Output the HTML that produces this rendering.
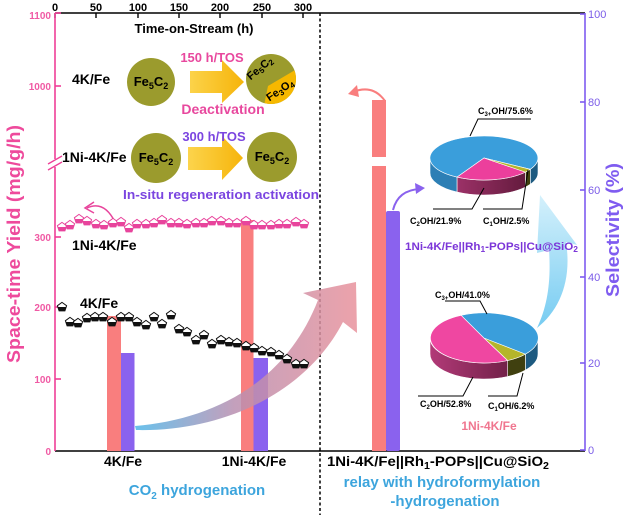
<!DOCTYPE html>
<html><head><meta charset="utf-8"><style>
html,body{margin:0;padding:0;background:#fff;}
svg{display:block;}
text{font-family:"Liberation Sans",Arial,sans-serif;}
</style></head><body>
<svg width="630" height="515" viewBox="0 0 630 515" xmlns="http://www.w3.org/2000/svg">
<defs>
  <linearGradient id="bigArrow" x1="135" y1="0" x2="356" y2="0" gradientUnits="userSpaceOnUse">
    <stop offset="0" stop-color="#4fb6e8"/>
    <stop offset="0.45" stop-color="#b98fb0"/>
    <stop offset="1" stop-color="#e8929c"/>
  </linearGradient>
  <linearGradient id="blueArrow" x1="0" y1="195" x2="0" y2="330" gradientUnits="userSpaceOnUse">
    <stop offset="0" stop-color="#cdeefb"/>
    <stop offset="1" stop-color="#5cc2ef"/>
  </linearGradient>
  <linearGradient id="yArrow" x1="188" y1="0" x2="244" y2="0" gradientUnits="userSpaceOnUse">
    <stop offset="0" stop-color="#fcd44c"/>
    <stop offset="1" stop-color="#f6b40a"/>
  </linearGradient>
  <linearGradient id="pinkSide" x1="430" y1="0" x2="538" y2="0" gradientUnits="userSpaceOnUse">
    <stop offset="0" stop-color="#b23a78"/>
    <stop offset="1" stop-color="#5a1736"/>
  </linearGradient>
  <linearGradient id="blueSide" x1="430" y1="0" x2="538" y2="0" gradientUnits="userSpaceOnUse">
    <stop offset="0" stop-color="#3288c0"/>
    <stop offset="1" stop-color="#1d5a80"/>
  </linearGradient>
  <g id="mb">
    <polygon points="0,-4.6 4.6,-1.3 2.9,3.9 -2.9,3.9 -4.6,-1.3" fill="#fff" stroke="#111" stroke-width="1"/>
    <polygon points="-4.1,0 4.1,0 2.9,3.9 -2.9,3.9" fill="#111"/>
  </g>
  <g id="mp">
    <polygon points="0,-4.6 4.6,-1.3 2.9,3.9 -2.9,3.9 -4.6,-1.3" fill="#fff" stroke="#e8449c" stroke-width="1"/>
    <polygon points="-4.1,0 4.1,0 2.9,3.9 -2.9,3.9" fill="#e8449c"/>
  </g>
</defs>

<!-- axes frame -->
<line x1="55" y1="13" x2="585" y2="13" stroke="#000" stroke-width="1.6"/>
<line x1="55" y1="451" x2="585" y2="451" stroke="#000" stroke-width="1.6"/>
<line x1="320" y1="13" x2="320" y2="515" stroke="#000" stroke-width="1.5" stroke-dasharray="3,2.5"/>
<!-- top ticks -->
<g stroke="#000" stroke-width="1.4">
  <line x1="55" y1="13" x2="55" y2="18"/><line x1="96" y1="13" x2="96" y2="18"/><line x1="138" y1="13" x2="138" y2="18"/>
  <line x1="179" y1="13" x2="179" y2="18"/><line x1="220" y1="13" x2="220" y2="18"/><line x1="262" y1="13" x2="262" y2="18"/>
  <line x1="303" y1="13" x2="303" y2="18"/>
  <line x1="122" y1="451" x2="122" y2="446"/><line x1="254" y1="451" x2="254" y2="446"/>
</g>
<g font-size="11" font-weight="bold" fill="#000" text-anchor="middle">
  <text x="55" y="11">0</text><text x="96" y="11">50</text><text x="138" y="11">100</text>
  <text x="179" y="11">150</text><text x="220" y="11">200</text><text x="262" y="11">250</text><text x="303" y="11">300</text>
</g>
<text x="194" y="33" font-size="13" font-weight="bold" text-anchor="middle">Time-on-Stream (h)</text>

<!-- left axis -->
<g stroke="#ee3f97" stroke-width="1.6">
  <line x1="55" y1="13" x2="55" y2="159"/>
  <line x1="55" y1="167" x2="55" y2="451"/>
  <line x1="55" y1="13" x2="61" y2="13"/><line x1="55" y1="86" x2="61" y2="86"/>
  <line x1="55" y1="237" x2="61" y2="237"/><line x1="55" y1="307" x2="61" y2="307"/>
  <line x1="55" y1="379" x2="61" y2="379"/>
  <line x1="48" y1="164" x2="62" y2="156" stroke-width="1.3"/>
  <line x1="48" y1="170" x2="62" y2="162" stroke-width="1.3"/>
</g>
<g font-size="10" font-weight="bold" fill="#f05aa4" text-anchor="end">
  <text x="51" y="19">1100</text><text x="51" y="90">1000</text><text x="51" y="241">300</text>
  <text x="51" y="311">200</text><text x="51" y="383">100</text><text x="51" y="455">0</text>
</g>
<text transform="translate(20,244) rotate(-90)" font-size="18" font-weight="bold" fill="#ee4a9c" text-anchor="middle" textLength="238" lengthAdjust="spacingAndGlyphs">Space-time Yield (mg/g/h)</text>

<!-- right axis -->
<g stroke="#7f5cf0" stroke-width="1.6">
  <line x1="585" y1="13" x2="585" y2="451"/>
  <line x1="580" y1="14" x2="585" y2="14"/><line x1="580" y1="102" x2="585" y2="102"/>
  <line x1="580" y1="190" x2="585" y2="190"/><line x1="580" y1="277" x2="585" y2="277"/>
  <line x1="580" y1="363" x2="585" y2="363"/><line x1="580" y1="450" x2="585" y2="450"/>
</g>
<g font-size="11" fill="#7b5ce8">
  <text x="588" y="18">100</text><text x="588" y="106">80</text><text x="588" y="194">60</text>
  <text x="588" y="281">40</text><text x="588" y="367">20</text><text x="588" y="454">0</text>
</g>
<text transform="translate(619,230) rotate(-90)" font-size="18" font-weight="bold" fill="#7f5cf0" text-anchor="middle" textLength="134" lengthAdjust="spacingAndGlyphs">Selectivity (%)</text>

<!-- bars -->
<rect x="107" y="316" width="14" height="135" fill="#f97e7e"/>
<rect x="121" y="353" width="13.5" height="98" fill="#8a62ee"/>
<rect x="241" y="220" width="12.5" height="231" fill="#f97e7e"/>
<rect x="253.5" y="358" width="14.5" height="93" fill="#8a62ee"/>
<rect x="372" y="100" width="14" height="57" fill="#f97e7e"/>
<rect x="372" y="166" width="14" height="285" fill="#f97e7e"/>
<rect x="386" y="211" width="14" height="240" rx="2" fill="#8a62ee"/>

<!-- big gradient arrow -->
<path d="M135,426 C210,420 285,385 318,300 L303,293 L356,282 L357,333 L343,322 C305,395 220,432 136,430 Z" fill="url(#bigArrow)" opacity="0.85"/>

<!-- light blue arrow -->
<path d="M540,195 L577,245 L566,242 C572,280 560,310 537,328 C548,305 551,280 549,250 L537,253 Z" fill="url(#blueArrow)" opacity="0.85"/>

<!-- small curved arrows -->
<path d="M115,222 Q104,200 87,208" fill="none" stroke="#e8449c" stroke-width="1.5"/>
<path d="M94,202 L85,208 L94,213" fill="none" stroke="#e8449c" stroke-width="1.5"/>
<path d="M385,101 Q373,84 353,92" fill="none" stroke="#f97e7e" stroke-width="2"/>
<path d="M348,94 L357,85 L359,97 Z" fill="#f97e7e"/>
<path d="M393,210 Q398,190 420,189" fill="none" stroke="#8a62ee" stroke-width="2"/>
<path d="M425,188 L415,183 L416,194 Z" fill="#8a62ee"/>

<!-- pink series -->
<g>
<use href="#mp" x="62" y="227"/><use href="#mp" x="70" y="225"/><use href="#mp" x="79" y="219"/><use href="#mp" x="87" y="221"/>
<use href="#mp" x="96" y="224"/><use href="#mp" x="104" y="225"/><use href="#mp" x="113" y="223"/><use href="#mp" x="121" y="222"/>
<use href="#mp" x="129" y="228"/><use href="#mp" x="137" y="224"/><use href="#mp" x="146" y="224"/><use href="#mp" x="154" y="223"/>
<use href="#mp" x="162" y="220"/><use href="#mp" x="171" y="223"/><use href="#mp" x="179" y="223"/><use href="#mp" x="187" y="224"/>
<use href="#mp" x="196" y="223"/><use href="#mp" x="204" y="223"/><use href="#mp" x="212" y="221"/><use href="#mp" x="221" y="221"/>
<use href="#mp" x="229" y="223"/><use href="#mp" x="237" y="223"/><use href="#mp" x="246" y="221"/><use href="#mp" x="254" y="225"/>
<use href="#mp" x="262" y="225"/><use href="#mp" x="271" y="225"/><use href="#mp" x="279" y="224"/><use href="#mp" x="287" y="224"/>
<use href="#mp" x="296" y="222"/><use href="#mp" x="304" y="224"/>
</g>
<!-- black series -->
<g>
<use href="#mb" x="62" y="307"/><use href="#mb" x="70" y="322"/><use href="#mb" x="78" y="323"/><use href="#mb" x="87" y="318"/>
<use href="#mb" x="95" y="317"/><use href="#mb" x="103" y="317"/><use href="#mb" x="112" y="322"/><use href="#mb" x="121" y="317"/>
<use href="#mb" x="129" y="317"/><use href="#mb" x="137" y="322"/><use href="#mb" x="146" y="325"/><use href="#mb" x="154" y="317"/>
<use href="#mb" x="162" y="324"/><use href="#mb" x="171" y="315"/><use href="#mb" x="179" y="329"/><use href="#mb" x="187" y="332"/>
<use href="#mb" x="196" y="340"/><use href="#mb" x="204" y="335"/><use href="#mb" x="212" y="344"/><use href="#mb" x="221" y="340"/>
<use href="#mb" x="229" y="342"/><use href="#mb" x="237" y="343"/><use href="#mb" x="246" y="346"/><use href="#mb" x="254" y="348"/>
<use href="#mb" x="262" y="351"/><use href="#mb" x="271" y="352"/><use href="#mb" x="279" y="355"/><use href="#mb" x="287" y="359"/>
<use href="#mb" x="296" y="364"/><use href="#mb" x="304" y="364"/>
</g>

<text x="72" y="250" font-size="14" font-weight="bold">1Ni-4K/Fe</text>
<text x="80" y="308" font-size="14" font-weight="bold">4K/Fe</text>

<!-- schematic -->
<text x="72" y="84" font-size="14" font-weight="bold">4K/Fe</text>
<text x="62" y="162" font-size="14" font-weight="bold">1Ni-4K/Fe</text>
<circle cx="151" cy="82" r="24" fill="#9b9b2d"/>
<text x="151" y="86" font-size="13" font-weight="bold" text-anchor="middle">Fe<tspan font-size="9" dy="3">5</tspan><tspan dy="-3">C</tspan><tspan font-size="9" dy="3">2</tspan></text>
<path d="M190,71 L222,71 L222,60 L244,82 L222,103 L222,93 L190,93 Z" fill="url(#yArrow)"/>
<circle cx="271" cy="79" r="25" fill="#9b9b2d"/>
<path d="M294.5,70.4 L268,86 L264.5,103.1 A25,25 0 0,0 294.5,70.4 Z" fill="#f6b800"/>
<text transform="translate(262,71) rotate(-40)" font-size="11" font-weight="bold" text-anchor="middle">Fe<tspan font-size="8" dy="2">5</tspan><tspan dy="-2">C</tspan><tspan font-size="8" dy="2">2</tspan></text>
<text transform="translate(282,93) rotate(-34)" font-size="11" font-weight="bold" text-anchor="middle">Fe<tspan font-size="8" dy="2">3</tspan><tspan dy="-2">O</tspan><tspan font-size="8" dy="2">4</tspan></text>
<text x="212" y="62" font-size="13" font-weight="bold" fill="#e8489e" text-anchor="middle">150 h/TOS</text>
<text x="223" y="114" font-size="14" font-weight="bold" fill="#e8489e" text-anchor="middle">Deactivation</text>

<circle cx="156" cy="158" r="25" fill="#9b9b2d"/>
<text x="156" y="162" font-size="13" font-weight="bold" text-anchor="middle">Fe<tspan font-size="9" dy="3">5</tspan><tspan dy="-3">C</tspan><tspan font-size="9" dy="3">2</tspan></text>
<path d="M188,147 L222,147 L222,136 L243,158 L222,180 L222,170 L188,170 Z" fill="url(#yArrow)"/>
<circle cx="272" cy="157" r="25" fill="#9b9b2d"/>
<text x="272" y="161" font-size="13" font-weight="bold" text-anchor="middle">Fe<tspan font-size="9" dy="3">5</tspan><tspan dy="-3">C</tspan><tspan font-size="9" dy="3">2</tspan></text>
<text x="214" y="141" font-size="13" font-weight="bold" fill="#7b45e0" text-anchor="middle">300 h/TOS</text>
<text x="123" y="199" font-size="13" font-weight="bold" fill="#7b45e0" textLength="196" lengthAdjust="spacingAndGlyphs">In-situ regeneration activation</text>

<!-- top pie -->
<g stroke="#fff" stroke-width="0.6">
<path d="M538,158 A54,22 0 0,1 530.3,169.3 L530.3,184.3 A54,22 0 0,0 538,173 Z" fill="#1d5a80"/>
<path d="M530.3,169.3 A54,22 0 0,1 525.4,172.1 L525.4,187.1 A54,22 0 0,0 530.3,184.3 Z" fill="#40400f"/>
<path d="M525.4,172.1 A54,22 0 0,1 457,177.1 L457,192.1 A54,22 0 0,0 525.4,187.1 Z" fill="url(#pinkSide)"/>
<path d="M457,177.1 A54,22 0 0,1 430,158 L430,173 A54,22 0 0,0 457,192.1 Z" fill="#2d7fb5"/>
<path d="M484,158 L457,177.1 A54,22 0 1,1 530.3,169.3 Z" fill="#3a9edb"/>
<path d="M484,158 L525.4,172.1 A54,22 0 0,1 457,177.1 Z" fill="#ec3f9c"/>
<path d="M484,158 L530.3,169.3 A54,22 0 0,1 525.4,172.1 Z" fill="#b5b52a"/>
</g>
<g stroke="#000" stroke-width="1" fill="none">
<path d="M531,119 L478,119 L470,136"/>
<path d="M433,209 L472,209 L484,188"/>
<path d="M483,209 L522,209 L528,170"/>
</g>
<g font-size="9" font-weight="bold">
<text x="478" y="114">C<tspan font-size="6" dy="2">3+</tspan><tspan dy="-2">OH/75.6%</tspan></text>
<text x="410" y="224">C<tspan font-size="6" dy="2">2</tspan><tspan dy="-2">OH/21.9%</tspan></text>
<text x="483" y="224">C<tspan font-size="6" dy="2">1</tspan><tspan dy="-2">OH/2.5%</tspan></text>
</g>
<text x="405" y="250" font-size="11" font-weight="bold" fill="#7b35d8" textLength="173" lengthAdjust="spacingAndGlyphs">1Ni-4K/Fe||Rh<tspan font-size="8" dy="2">1</tspan><tspan dy="-2">-POPs||Cu@SiO</tspan><tspan font-size="8" dy="2">2</tspan></text>

<!-- bottom pie -->
<g stroke="#fff" stroke-width="0.6">
<path d="M538,338 A54,25 0 0,1 525.4,354.1 L525.4,370.1 A54,25 0 0,0 538,354 Z" fill="#1d5a80"/>
<path d="M525.4,354.1 A54,25 0 0,1 507.7,360.5 L507.7,376.5 A54,25 0 0,0 525.4,370.1 Z" fill="#40400f"/>
<path d="M507.7,360.5 A54,25 0 0,1 430,338 L430,354 A54,25 0 0,0 507.7,376.5 Z" fill="url(#pinkSide)"/>
<path d="M484,338 L507.7,360.5 A54,25 0 1,1 461.2,315.3 Z" fill="#ef47a1"/>
<path d="M484,338 L525.4,354.1 A54,25 0 0,1 507.7,360.5 Z" fill="#b5b52a"/>
<path d="M484,338 L461.2,315.3 A54,25 0 0,1 525.4,354.1 Z" fill="#3a9edb"/>
</g>
<g stroke="#000" stroke-width="1" fill="none">
<path d="M445,301 L480,301 L487,314"/>
<path d="M418,396 L463,396 L473,377"/>
<path d="M488,396 L517,396 L523,373"/>
</g>
<g font-size="9" font-weight="bold">
<text x="435" y="298">C<tspan font-size="6" dy="2">3+</tspan><tspan dy="-2">OH/41.0%</tspan></text>
<text x="420" y="407">C<tspan font-size="6" dy="2">2</tspan><tspan dy="-2">OH/52.8%</tspan></text>
<text x="488" y="409">C<tspan font-size="6" dy="2">1</tspan><tspan dy="-2">OH/6.2%</tspan></text>
</g>
<text x="489" y="430" font-size="12" font-weight="bold" fill="#f0768f" text-anchor="middle">1Ni-4K/Fe</text>

<!-- bottom labels -->
<text x="123" y="466" font-size="14" font-weight="bold" text-anchor="middle">4K/Fe</text>
<text x="254" y="466" font-size="14" font-weight="bold" text-anchor="middle">1Ni-4K/Fe</text>
<text x="327" y="466" font-size="14" font-weight="bold" textLength="222" lengthAdjust="spacingAndGlyphs">1Ni-4K/Fe||Rh<tspan font-size="10" dy="3">1</tspan><tspan dy="-3">-POPs||Cu@SiO</tspan><tspan font-size="10" dy="3">2</tspan></text>
<text x="197" y="495" font-size="15" font-weight="bold" fill="#3da5dd" text-anchor="middle">CO<tspan font-size="10" dy="4">2</tspan><tspan dy="-4"> hydrogenation</tspan></text>
<text x="442" y="487" font-size="15" font-weight="bold" fill="#3da5dd" text-anchor="middle">relay with hydroformylation</text>
<text x="445" y="506" font-size="15" font-weight="bold" fill="#3da5dd" text-anchor="middle">-hydrogenation</text>
</svg>
</body></html>
